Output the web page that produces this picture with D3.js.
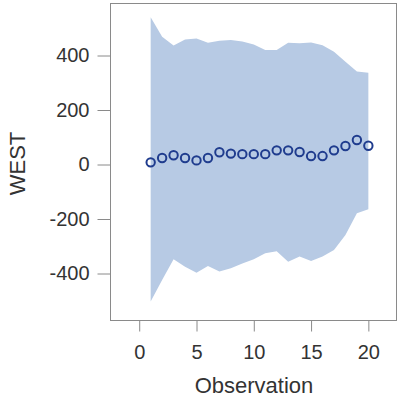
<!DOCTYPE html>
<html>
<head>
<meta charset="utf-8">
<script src="https://cdn.jsdelivr.net/npm/d3@7"></script>
<style>
  body { margin: 0; background: #fff; }
  text { font-family: "Liberation Sans", Arial, sans-serif; }
</style>
</head>
<body>
<svg id="chart" width="399" height="398"></svg>
<script>
// observation numbers and the plotted values
const obs = d3.range(1, 21);
const west = [8, 24, 34, 24, 15, 24, 45, 40, 38, 38, 38, 52, 52, 46, 31, 31, 52, 68, 90, 69];
const upper = [540, 469, 437, 459, 462, 447, 454, 457, 451, 440, 420, 420, 447, 445, 448, 438, 414, 377, 341, 337];
const lower = [-503, -424, -348, -375, -397, -372, -393, -381, -363, -348, -326, -318, -357, -338, -354, -338, -314, -259, -179, -164];
const xTicks = [0, 5, 10, 15, 20];
const yTicks = [-400, -200, 0, 200, 400];

const svg = d3.select('#chart');
const plot = { left: 110, top: 3, right: 397, bottom: 320 };

const x = d3.scaleLinear().domain([-2.55, 22.5]).range([plot.left, plot.right]);
const y = d3.scaleLinear().domain([-570.6, 592.7]).range([plot.bottom, plot.top]);

// confidence band
const rows = obs.map((o, i) => ({ o, lo: lower[i], hi: upper[i], v: west[i] }));
svg.append('path')
  .datum(rows)
  .attr('fill', '#b7cae4')
  .attr('d', d3.area().x(d => x(d.o)).y0(d => y(d.lo)).y1(d => y(d.hi)));

// frame
svg.append('rect')
  .attr('x', plot.left + 0.5).attr('y', plot.top + 0.5)
  .attr('width', plot.right - plot.left - 1).attr('height', plot.bottom - plot.top)
  .attr('fill', 'none').attr('stroke', '#8a8a8a');

// axes (plain hyphen for negatives, like the original)
const xAxis = svg.append('g')
  .attr('transform', `translate(0,${plot.bottom + 0.5})`)
  .call(d3.axisBottom(x).tickValues(xTicks).tickFormat(d => String(d)).tickSize(11).tickPadding(13));
const yAxis = svg.append('g')
  .attr('transform', `translate(${plot.left + 0.5},0)`)
  .call(d3.axisLeft(y).tickValues(yTicks).tickFormat(d => String(d)).tickSize(13).tickPadding(8));

[xAxis, yAxis].forEach(g => {
  g.select('.domain').remove();
  g.selectAll('.tick line').attr('stroke', '#8a8a8a');
  g.selectAll('.tick text')
    .attr('fill', '#333')
    .style('font-size', '20px')
    .style('font-family', '"Liberation Sans", Arial, sans-serif');
});

// markers
svg.append('g')
  .selectAll('circle')
  .data(rows)
  .join('circle')
  .attr('cx', d => x(d.o))
  .attr('cy', d => y(d.v))
  .attr('r', 4.2)
  .attr('fill', 'none')
  .attr('stroke', '#1f3c8e')
  .attr('stroke-width', 2);

// axis titles
svg.append('text')
  .attr('x', 254)
  .attr('y', 393)
  .attr('text-anchor', 'middle')
  .attr('fill', '#333')
  .style('font-size', '22px')
  .text('Observation');

svg.append('text')
  .attr('transform', `translate(25,${y(0) - 1}) rotate(-90)`)
  .attr('text-anchor', 'middle')
  .attr('fill', '#333')
  .style('font-size', '22px')
  .text('WEST');
</script>
</body>
</html>
